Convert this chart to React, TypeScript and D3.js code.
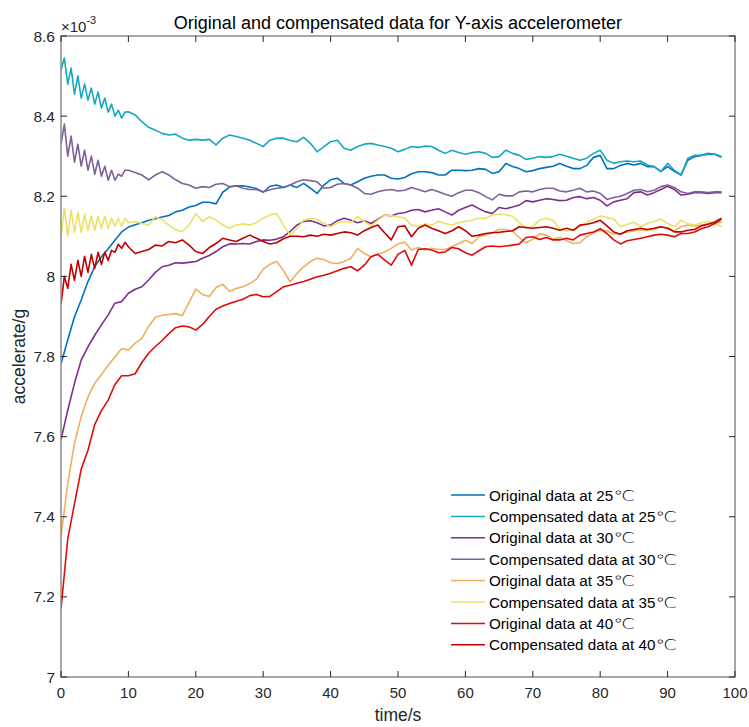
import React, { useLayoutEffect, useRef, useState } from "react";
import * as d3 from "d3";

// ---- data (values in units of 1e-3 g) ----
const earlyTimes = d3.range(0, 10, 0.5); // compensated series, first 10 s at 0.5 s
const lateTimes = d3.range(10, 99, 1); // compensated series, 10..98 s
const fullTimes = d3.range(0, 99, 1); // original series, 0..98 s

const orig25 = [7.782, 7.841, 7.899, 7.941, 7.987, 8.024, 8.049, 8.069, 8.090, 8.111, 8.123, 8.129, 8.134, 8.140, 8.144, 8.148, 8.152, 8.161, 8.165, 8.173, 8.177, 8.185, 8.185, 8.181, 8.210, 8.223, 8.226, 8.226, 8.223, 8.219, 8.210, 8.225, 8.228, 8.222, 8.228, 8.222, 8.232, 8.220, 8.207, 8.228, 8.241, 8.245, 8.232, 8.228, 8.236, 8.245, 8.250, 8.253, 8.253, 8.245, 8.243, 8.247, 8.256, 8.261, 8.261, 8.259, 8.253, 8.253, 8.265, 8.265, 8.264, 8.265, 8.269, 8.267, 8.257, 8.261, 8.282, 8.274, 8.269, 8.261, 8.264, 8.269, 8.272, 8.275, 8.282, 8.275, 8.269, 8.269, 8.277, 8.297, 8.302, 8.269, 8.269, 8.277, 8.282, 8.278, 8.282, 8.274, 8.274, 8.262, 8.274, 8.262, 8.253, 8.290, 8.299, 8.302, 8.305, 8.305, 8.297];

const comp25Early = [8.515, 8.545, 8.48, 8.52, 8.455, 8.50, 8.445, 8.48, 8.44, 8.47, 8.43, 8.46, 8.42, 8.445, 8.41, 8.43, 8.40, 8.415, 8.395, 8.41];
const comp25 = [8.411, 8.403, 8.386, 8.372, 8.365, 8.357, 8.353, 8.355, 8.345, 8.340, 8.342, 8.340, 8.342, 8.328, 8.345, 8.353, 8.349, 8.345, 8.340, 8.332, 8.324, 8.340, 8.345, 8.345, 8.339, 8.336, 8.347, 8.332, 8.311, 8.324, 8.336, 8.340, 8.320, 8.315, 8.324, 8.330, 8.332, 8.328, 8.324, 8.320, 8.311, 8.317, 8.324, 8.322, 8.325, 8.324, 8.315, 8.307, 8.315, 8.309, 8.305, 8.309, 8.311, 8.307, 8.297, 8.299, 8.315, 8.307, 8.302, 8.292, 8.295, 8.299, 8.297, 8.299, 8.305, 8.300, 8.295, 8.290, 8.295, 8.307, 8.315, 8.290, 8.282, 8.286, 8.288, 8.286, 8.288, 8.278, 8.274, 8.262, 8.282, 8.265, 8.253, 8.295, 8.302, 8.302, 8.307, 8.305, 8.299];

const orig30 = [7.592, 7.666, 7.733, 7.791, 7.824, 7.853, 7.879, 7.904, 7.933, 7.937, 7.958, 7.968, 7.974, 7.991, 8.010, 8.024, 8.028, 8.034, 8.033, 8.035, 8.037, 8.045, 8.052, 8.062, 8.074, 8.081, 8.081, 8.082, 8.081, 8.087, 8.091, 8.090, 8.093, 8.099, 8.112, 8.128, 8.137, 8.139, 8.134, 8.126, 8.128, 8.139, 8.145, 8.140, 8.134, 8.139, 8.132, 8.142, 8.153, 8.151, 8.157, 8.159, 8.165, 8.167, 8.161, 8.165, 8.169, 8.161, 8.153, 8.165, 8.172, 8.178, 8.169, 8.161, 8.157, 8.172, 8.169, 8.173, 8.178, 8.189, 8.186, 8.190, 8.194, 8.192, 8.189, 8.190, 8.197, 8.199, 8.194, 8.197, 8.190, 8.176, 8.186, 8.190, 8.194, 8.209, 8.211, 8.203, 8.209, 8.217, 8.225, 8.217, 8.203, 8.205, 8.209, 8.209, 8.207, 8.209, 8.209];

const comp30Early = [8.33, 8.38, 8.30, 8.35, 8.285, 8.33, 8.275, 8.315, 8.265, 8.30, 8.255, 8.29, 8.25, 8.275, 8.24, 8.265, 8.24, 8.255, 8.25, 8.265];
const comp30 = [8.265, 8.259, 8.253, 8.241, 8.253, 8.261, 8.253, 8.241, 8.232, 8.228, 8.220, 8.224, 8.222, 8.230, 8.232, 8.224, 8.226, 8.220, 8.217, 8.217, 8.211, 8.216, 8.220, 8.222, 8.228, 8.236, 8.241, 8.239, 8.236, 8.220, 8.222, 8.230, 8.232, 8.228, 8.220, 8.207, 8.205, 8.211, 8.215, 8.217, 8.213, 8.215, 8.222, 8.217, 8.211, 8.217, 8.211, 8.205, 8.200, 8.209, 8.215, 8.215, 8.209, 8.199, 8.191, 8.205, 8.201, 8.201, 8.211, 8.213, 8.211, 8.217, 8.220, 8.220, 8.213, 8.211, 8.215, 8.220, 8.211, 8.213, 8.207, 8.192, 8.197, 8.200, 8.207, 8.215, 8.217, 8.211, 8.215, 8.224, 8.228, 8.222, 8.211, 8.207, 8.211, 8.211, 8.209, 8.211, 8.211];

const orig35 = [7.350, 7.483, 7.583, 7.650, 7.699, 7.733, 7.755, 7.778, 7.799, 7.820, 7.816, 7.833, 7.845, 7.875, 7.898, 7.903, 7.905, 7.907, 7.902, 7.935, 7.968, 7.955, 7.950, 7.972, 7.980, 7.963, 7.970, 7.974, 7.982, 7.993, 8.018, 8.030, 8.037, 8.015, 7.986, 8.007, 8.024, 8.037, 8.045, 8.042, 8.034, 8.032, 8.037, 8.045, 8.070, 8.057, 8.049, 8.055, 8.061, 8.070, 8.081, 8.086, 8.066, 8.072, 8.066, 8.070, 8.067, 8.067, 8.074, 8.082, 8.090, 8.082, 8.099, 8.103, 8.109, 8.117, 8.117, 8.112, 8.097, 8.084, 8.093, 8.106, 8.103, 8.093, 8.097, 8.089, 8.082, 8.084, 8.099, 8.109, 8.115, 8.114, 8.105, 8.107, 8.110, 8.114, 8.115, 8.115, 8.117, 8.124, 8.120, 8.114, 8.124, 8.128, 8.126, 8.128, 8.132, 8.134, 8.136];

const comp35Early = [8.10, 8.17, 8.10, 8.165, 8.11, 8.16, 8.11, 8.155, 8.115, 8.15, 8.115, 8.15, 8.12, 8.15, 8.12, 8.145, 8.125, 8.145, 8.125, 8.145];
const comp35 = [8.134, 8.137, 8.132, 8.128, 8.149, 8.141, 8.128, 8.116, 8.112, 8.128, 8.157, 8.137, 8.149, 8.141, 8.128, 8.120, 8.128, 8.131, 8.128, 8.134, 8.145, 8.153, 8.157, 8.128, 8.103, 8.119, 8.140, 8.145, 8.142, 8.132, 8.124, 8.134, 8.137, 8.134, 8.149, 8.137, 8.126, 8.140, 8.153, 8.151, 8.149, 8.145, 8.128, 8.126, 8.131, 8.128, 8.137, 8.132, 8.128, 8.134, 8.137, 8.140, 8.145, 8.145, 8.153, 8.155, 8.154, 8.150, 8.134, 8.119, 8.124, 8.140, 8.145, 8.140, 8.119, 8.113, 8.115, 8.124, 8.135, 8.143, 8.151, 8.147, 8.143, 8.124, 8.130, 8.135, 8.124, 8.132, 8.137, 8.143, 8.132, 8.124, 8.140, 8.131, 8.128, 8.134, 8.137, 8.132, 8.124];

const orig40 = [7.170, 7.345, 7.432, 7.519, 7.566, 7.630, 7.665, 7.691, 7.730, 7.752, 7.752, 7.757, 7.785, 7.808, 7.825, 7.840, 7.857, 7.872, 7.876, 7.874, 7.866, 7.880, 7.900, 7.918, 7.926, 7.932, 7.938, 7.943, 7.952, 7.955, 7.949, 7.950, 7.962, 7.974, 7.978, 7.983, 7.987, 7.993, 7.999, 8.003, 8.008, 8.014, 8.020, 8.024, 8.014, 8.028, 8.049, 8.055, 8.041, 8.028, 8.055, 8.065, 8.028, 8.067, 8.069, 8.066, 8.059, 8.061, 8.072, 8.069, 8.059, 8.053, 8.064, 8.074, 8.076, 8.074, 8.076, 8.078, 8.081, 8.097, 8.099, 8.092, 8.097, 8.091, 8.091, 8.095, 8.091, 8.103, 8.107, 8.111, 8.119, 8.107, 8.091, 8.081, 8.089, 8.092, 8.095, 8.099, 8.103, 8.105, 8.103, 8.099, 8.107, 8.107, 8.111, 8.119, 8.124, 8.132, 8.143];

const comp40Early = [7.93, 8.00, 7.97, 8.03, 7.99, 8.04, 8.00, 8.05, 8.01, 8.055, 8.02, 8.06, 8.03, 8.06, 8.04, 8.065, 8.06, 8.08, 8.07, 8.085];
const comp40 = [8.074, 8.057, 8.062, 8.067, 8.078, 8.076, 8.087, 8.084, 8.091, 8.078, 8.062, 8.057, 8.072, 8.082, 8.095, 8.091, 8.087, 8.095, 8.103, 8.095, 8.087, 8.081, 8.084, 8.094, 8.100, 8.100, 8.099, 8.103, 8.100, 8.105, 8.103, 8.107, 8.111, 8.109, 8.103, 8.114, 8.122, 8.128, 8.109, 8.091, 8.124, 8.126, 8.099, 8.120, 8.128, 8.120, 8.114, 8.107, 8.114, 8.124, 8.114, 8.100, 8.103, 8.107, 8.109, 8.110, 8.112, 8.114, 8.124, 8.122, 8.120, 8.122, 8.124, 8.120, 8.115, 8.120, 8.115, 8.128, 8.130, 8.134, 8.140, 8.126, 8.111, 8.105, 8.114, 8.117, 8.120, 8.117, 8.120, 8.124, 8.120, 8.111, 8.111, 8.115, 8.117, 8.126, 8.130, 8.136, 8.145];

const seriesLabels = [
  "Original data at 25",
  "Compensated data at 25",
  "Original data at 30",
  "Compensated data at 30",
  "Original data at 35",
  "Compensated data at 35",
  "Original data at 40",
  "Compensated data at 40",
];
const degreeSign = "℃";
const seriesColors = ["#0072BD", "#17A6BF", "#7E2F8E", "#7E6199", "#EFAF5F", "#ECE067", "#E00A0A", "#C00000"];

const xTicks = [0, 10, 20, 30, 40, 50, 60, 70, 80, 90, 100];
const yTicks = [7, 7.2, 7.4, 7.6, 7.8, 8, 8.2, 8.4, 8.6];

const titleText = "Original and compensated data for Y-axis accelerometer";
const xLabel = "time/s";
const yLabel = "accelerate/g";

type Pt = [number, number];
const zipPts = (ts: number[], vs: number[]): Pt[] => ts.map((t, i) => [t, vs[i]] as Pt);

const seriesData: Pt[][] = [
  zipPts(fullTimes, orig25),
  [...zipPts(earlyTimes, comp25Early), ...zipPts(lateTimes, comp25)],
  zipPts(fullTimes, orig30),
  [...zipPts(earlyTimes, comp30Early), ...zipPts(lateTimes, comp30)],
  zipPts(fullTimes, orig35),
  [...zipPts(earlyTimes, comp35Early), ...zipPts(lateTimes, comp35)],
  zipPts(fullTimes, orig40),
  [...zipPts(earlyTimes, comp40Early), ...zipPts(lateTimes, comp40)],
];

const W = 749;
const H = 727;
const M = { left: 61, right: 735, top: 36, bottom: 677 };
const FONT = "'Liberation Sans', Arial, Helvetica, sans-serif";
const SYM_FONT = "'DejaVu Sans', sans-serif";
const LEG_FONT = 15.2;

export default function App() {
  const x = d3.scaleLinear().domain([0, 100]).range([M.left, M.right]);
  const y = d3.scaleLinear().domain([7, 8.6]).range([M.bottom, M.top]);
  const line = d3
    .line<Pt>()
    .x((d) => x(d[0]))
    .y((d) => y(d[1]));

  const tickLen = 6;
  const axisColor = "#262626";
  const boxColor = "#8a8a8a";

  const legX0 = 451;
  const legX1 = 485;
  const legTextX = 489;
  const legY0 = 495;
  const legDy = 21.4;

  const labelRefs = useRef<(SVGTextElement | null)[]>([]);
  const [labelWidths, setLabelWidths] = useState<number[]>(
    seriesLabels.map((s) => s.length * LEG_FONT * 0.5)
  );
  useLayoutEffect(() => {
    const ws = labelRefs.current.map((el, i) =>
      el ? el.getComputedTextLength() : seriesLabels[i].length * LEG_FONT * 0.5
    );
    setLabelWidths(ws);
  }, []);

  return (
    <svg
      width={W}
      height={H}
      style={{ position: "absolute", left: 0, top: 0, background: "#fff" }}
      fontFamily={FONT}
    >
      <rect x={0} y={0} width={W} height={H} fill="#fff" />
      <defs>
        <clipPath id="clip">
          <rect x={M.left} y={M.top} width={M.right - M.left} height={M.bottom - M.top} />
        </clipPath>
      </defs>
      {/* series */}
      <g clipPath="url(#clip)">
        {seriesData.map((pts, i) => (
          <path
            key={i}
            d={line(pts) || ""}
            fill="none"
            stroke={seriesColors[i]}
            strokeWidth={1.6}
            strokeLinejoin="round"
          />
        ))}
      </g>

      {/* box */}
      <rect
        x={M.left}
        y={M.top}
        width={M.right - M.left}
        height={M.bottom - M.top}
        fill="none"
        stroke={boxColor}
        strokeWidth={1.5}
      />

      {/* x ticks */}
      {xTicks.map((t) => (
        <g key={"x" + t}>
          <line x1={x(t)} x2={x(t)} y1={M.bottom} y2={M.bottom - tickLen} stroke={axisColor} strokeWidth={1} />
          <line x1={x(t)} x2={x(t)} y1={M.top} y2={M.top + tickLen} stroke={axisColor} strokeWidth={1} />
          <text x={x(t)} y={698} textAnchor="middle" fontSize={15} fill={axisColor}>
            {t}
          </text>
        </g>
      ))}
      {/* y ticks */}
      {yTicks.map((v) => (
        <g key={"y" + v}>
          <line x1={M.left} x2={M.left + tickLen} y1={y(v)} y2={y(v)} stroke={axisColor} strokeWidth={1} />
          <line x1={M.right} x2={M.right - tickLen} y1={y(v)} y2={y(v)} stroke={axisColor} strokeWidth={1} />
          <text x={55} y={y(v) + 5.5} textAnchor="end" fontSize={15.5} fill={axisColor}>
            {d3.format("~g")(v)}
          </text>
        </g>
      ))}

      {/* exponent */}
      <text x={61} y={32} fontSize={15} fill={axisColor}>
        ×10
        <tspan dy={-8} fontSize={11}>
          -3
        </tspan>
      </text>

      {/* title and labels */}
      <text x={(M.left + M.right) / 2} y={29} textAnchor="middle" fontSize={18} fill="#000">
        {titleText}
      </text>
      <text x={(M.left + M.right) / 2} y={721} textAnchor="middle" fontSize={17.5} fill={axisColor}>
        {xLabel}
      </text>
      <text
        transform={`translate(25, ${(M.top + M.bottom) / 2}) rotate(-90)`}
        textAnchor="middle"
        fontSize={17.5}
        fill={axisColor}
      >
        {yLabel}
      </text>

      {/* legend */}
      {seriesLabels.map((name, i) => {
        const yy = legY0 + i * legDy;
        return (
          <g key={"leg" + i}>
            <line x1={legX0} x2={legX1} y1={yy} y2={yy} stroke={seriesColors[i]} strokeWidth={1.5} />
            <text
              ref={(el) => {
                labelRefs.current[i] = el;
              }}
              x={legTextX}
              y={yy + 5.5}
              fontSize={LEG_FONT}
              fill="#000"
            >
              {name}
            </text>
            <text
              transform={`translate(${legTextX + labelWidths[i] + 0.5}, ${yy + 5.5}) scale(1.3, 1)`}
              fontFamily={SYM_FONT}
              fontSize={14.5}
              fontWeight={300}
              fill="#000"
            >
              {degreeSign}
            </text>
          </g>
        );
      })}
    </svg>
  );
}
